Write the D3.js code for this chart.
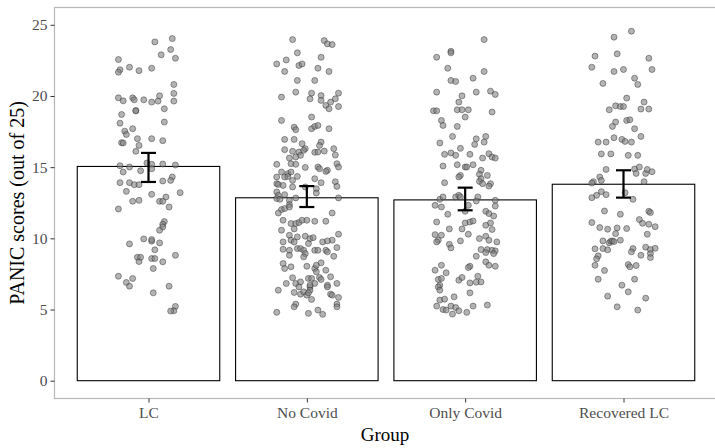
<!DOCTYPE html>
<html>
<head>
<meta charset="utf-8">
<script src="https://cdn.jsdelivr.net/npm/d3@7"></script>
<style>
  body { margin: 0; background: #fff; }
  text { font-family: "Liberation Serif", "Times New Roman", serif; }
</style>
</head>
<body>
<script>
// group names + summary values (mean, error bar low/high)
var groups = ["LC", "No Covid", "Only Covid", "Recovered LC"];
var means = [15.05, 12.85, 12.7, 13.8];
var errLow = [13.96, 12.2, 11.97, 12.86];
var errHigh = [16.0, 13.67, 13.56, 14.78];
var yTicks = [0, 5, 10, 15, 20, 25];

// individual scores, [jitter, score]
var lcPoints = [[0.15,24.03],[0.04,23.80],[0.14,23.26],[0.08,22.89],[0.17,22.65],[-0.19,22.56],[-0.12,22.02],[-0.18,21.84],[-0.19,21.67],[-0.06,21.78],[0.02,21.95],[0.16,20.81],[0.16,20.18],[-0.19,19.87],[-0.16,19.66],[-0.10,19.87],[-0.09,19.73],[-0.03,19.73],[0.02,19.57],[0.06,19.64],[0.07,20.01],[0.16,19.64],[-0.08,18.98],[-0.08,18.95],[0.10,19.10],[-0.17,18.70],[0.10,18.17],[-0.18,18.09],[-0.10,17.70],[-0.15,17.53],[-0.14,17.30],[-0.07,17.00],[0.02,17.00],[0.09,16.86],[-0.17,16.72],[-0.16,16.70],[-0.06,16.53],[-0.08,16.11],[-0.01,15.29],[0.02,15.20],[-0.18,15.10],[-0.12,15.01],[0.09,15.22],[0.17,15.15],[-0.16,14.66],[-0.05,14.75],[0.02,14.89],[0.15,14.31],[0.14,14.07],[-0.18,13.91],[-0.12,13.91],[-0.09,13.77],[-0.06,13.77],[0.09,14.03],[-0.14,13.30],[0.20,13.21],[0.02,13.09],[0.11,12.90],[-0.10,12.60],[-0.06,12.67],[0.07,12.60],[0.09,12.60],[0.13,12.20],[-0.19,12.06],[0.10,11.18],[0.09,10.99],[0.09,10.80],[0.07,10.57],[-0.03,9.96],[0.02,9.80],[0.02,9.91],[0.07,9.68],[-0.12,9.61],[0.04,9.19],[-0.07,8.67],[-0.06,8.37],[-0.05,8.67],[0.02,8.58],[0.04,8.58],[0.09,8.35],[0.17,8.81],[0.03,7.88],[-0.19,7.34],[-0.14,6.90],[-0.12,6.64],[-0.10,7.18],[0.13,6.64],[0.03,6.17],[0.17,5.22],[0.16,4.91],[0.14,4.89]];

var noCovidPoints = [[-0.09,23.96],[0.11,23.89],[0.13,23.66],[0.16,23.61],[-0.06,23.03],[0.09,22.72],[-0.19,22.25],[-0.13,22.53],[-0.05,22.14],[-0.03,22.25],[-0.14,21.72],[0.07,21.95],[0.14,21.72],[-0.06,21.09],[0.05,21.09],[-0.07,20.27],[0.03,20.20],[0.09,20.03],[0.20,20.20],[-0.16,19.92],[0.02,19.80],[0.09,19.69],[0.12,19.34],[0.15,19.57],[0.18,19.80],[0.14,19.10],[0.20,19.26],[-0.16,18.28],[0.03,18.52],[-0.08,17.81],[-0.07,17.63],[0.03,17.70],[0.05,17.86],[0.07,17.93],[0.14,17.70],[-0.14,16.95],[-0.08,16.95],[-0.03,16.65],[0.09,16.76],[-0.01,16.30],[0.08,16.53],[-0.14,16.23],[-0.09,16.11],[-0.05,16.06],[-0.02,16.18],[0.05,16.04],[0.07,16.06],[0.11,16.13],[0.17,16.30],[-0.11,15.64],[-0.07,15.71],[-0.04,15.83],[0.18,15.85],[-0.19,15.20],[-0.10,15.24],[-0.07,15.20],[-0.01,14.98],[0.07,15.01],[0.08,14.89],[0.13,14.78],[0.19,15.24],[0.20,15.01],[-0.16,14.66],[-0.12,14.54],[-0.10,14.66],[0.12,14.70],[-0.19,14.31],[-0.14,14.31],[-0.12,14.35],[-0.09,14.07],[-0.06,14.35],[0.05,14.19],[0.09,13.91],[0.18,13.98],[0.19,13.65],[-0.19,13.84],[-0.18,13.79],[-0.15,13.72],[-0.09,13.61],[-0.01,13.61],[0.06,13.49],[0.06,13.18],[-0.19,13.26],[-0.18,13.02],[-0.14,13.07],[-0.19,12.79],[-0.17,12.74],[-0.11,12.67],[-0.07,12.84],[0.20,12.84],[-0.11,12.37],[-0.16,12.02],[-0.18,11.78],[-0.14,12.09],[-0.11,12.20],[0.16,11.78],[-0.15,11.27],[-0.10,11.04],[-0.07,11.04],[-0.05,11.11],[-0.03,11.27],[0.00,11.27],[0.05,11.20],[0.12,11.20],[-0.08,10.66],[-0.16,10.57],[-0.11,10.22],[-0.06,10.10],[-0.01,10.15],[0.02,9.98],[0.04,10.05],[0.16,9.87],[0.20,10.29],[-0.15,9.75],[-0.10,9.87],[-0.08,9.75],[0.01,9.63],[0.10,9.75],[0.13,9.82],[-0.15,9.23],[-0.11,9.16],[-0.06,9.28],[-0.04,9.28],[-0.02,9.16],[-0.01,8.93],[0.05,9.16],[0.07,9.16],[0.12,9.16],[0.13,9.05],[0.19,9.35],[-0.11,8.81],[-0.02,8.70],[0.17,8.74],[-0.15,8.23],[-0.14,7.88],[-0.10,8.00],[0.00,8.04],[0.05,7.88],[0.06,8.11],[0.09,8.28],[0.12,7.76],[0.06,7.65],[-0.09,7.23],[-0.13,6.83],[-0.07,6.83],[-0.04,6.94],[0.01,7.18],[0.03,7.18],[0.05,6.83],[0.08,7.25],[0.09,7.11],[0.13,6.71],[0.15,7.30],[0.19,6.83],[-0.05,6.59],[0.02,6.59],[0.02,6.71],[0.02,6.36],[0.13,6.59],[-0.18,6.36],[-0.08,6.20],[-0.04,6.08],[-0.02,6.24],[0.00,6.01],[0.01,6.17],[0.03,5.71],[0.15,6.08],[0.16,6.01],[0.20,5.85],[0.19,5.38],[0.19,5.19],[-0.07,5.38],[-0.08,5.19],[-0.19,4.80],[0.01,4.73],[0.07,4.96],[0.10,4.66]];

var onlyCovidPoints = [[0.12,23.96],[-0.18,22.72],[-0.09,23.14],[-0.09,23.03],[-0.11,21.95],[0.12,21.72],[-0.09,21.09],[-0.06,21.02],[0.05,21.25],[-0.18,20.27],[-0.02,20.01],[0.07,20.27],[0.16,20.34],[0.19,20.11],[-0.04,19.57],[-0.20,18.96],[-0.18,18.96],[-0.05,19.03],[-0.02,19.03],[0.02,19.03],[0.17,18.87],[0.00,18.52],[-0.15,18.28],[-0.14,17.93],[-0.05,17.86],[-0.08,17.16],[0.07,16.99],[0.13,17.16],[-0.16,16.70],[0.06,16.60],[0.12,16.76],[-0.03,16.32],[-0.13,15.90],[-0.09,16.00],[-0.06,15.83],[0.03,15.90],[0.11,15.64],[0.15,15.95],[0.17,15.71],[0.19,15.64],[-0.14,15.08],[-0.05,15.17],[0.00,15.01],[0.01,15.01],[0.05,15.17],[0.10,14.78],[-0.03,14.42],[0.09,14.50],[-0.04,14.31],[0.10,14.19],[0.14,14.42],[-0.13,13.91],[0.09,14.00],[0.11,13.84],[0.16,13.84],[0.15,13.67],[-0.16,12.74],[-0.14,12.91],[-0.06,12.91],[-0.04,13.02],[-0.03,12.91],[0.08,12.91],[0.02,12.32],[0.07,12.62],[0.19,12.67],[0.19,12.27],[-0.19,12.32],[-0.15,12.20],[0.00,11.90],[-0.11,11.69],[0.13,11.90],[0.15,11.74],[0.18,11.57],[-0.18,11.15],[0.00,11.08],[0.03,11.15],[0.05,11.22],[0.13,10.92],[0.16,11.08],[-0.10,10.66],[-0.02,10.66],[0.17,10.62],[-0.19,10.26],[-0.15,10.22],[0.02,10.29],[0.09,9.98],[0.13,10.15],[0.15,9.87],[-0.17,9.87],[-0.18,9.75],[-0.03,9.82],[0.20,9.75],[-0.10,9.58],[-0.09,9.33],[0.10,9.21],[0.14,9.21],[0.13,9.00],[0.17,9.16],[0.19,9.12],[0.18,8.93],[0.07,8.74],[0.13,8.35],[0.15,8.11],[0.19,8.04],[-0.15,8.11],[-0.19,7.76],[-0.12,7.58],[0.03,8.04],[0.02,7.95],[-0.17,7.11],[-0.15,7.18],[-0.16,6.71],[-0.17,6.59],[-0.16,6.36],[-0.04,7.06],[-0.02,7.25],[0.03,6.87],[0.07,6.92],[0.08,7.34],[0.10,6.94],[0.03,6.17],[-0.16,5.66],[-0.13,5.73],[-0.07,5.89],[-0.18,5.24],[-0.14,5.00],[-0.12,4.96],[-0.09,5.24],[-0.06,5.14],[-0.04,4.91],[-0.08,4.68],[0.01,4.80],[0.05,5.24],[0.14,5.31]];

var recoveredPoints = [[0.05,24.55],[-0.06,24.13],[-0.18,22.80],[-0.04,22.96],[0.16,22.65],[-0.20,22.02],[-0.06,21.72],[0.00,21.86],[0.18,21.86],[0.07,21.25],[-0.13,20.88],[0.09,20.81],[0.02,19.85],[0.13,19.57],[-0.05,19.31],[-0.02,19.26],[0.00,19.26],[-0.09,19.03],[0.11,19.08],[0.16,19.08],[0.02,18.28],[0.04,18.33],[-0.05,18.17],[-0.07,17.86],[0.07,17.70],[0.11,17.16],[-0.06,17.07],[-0.01,16.95],[0.01,16.81],[0.05,16.76],[-0.16,16.76],[-0.11,16.76],[-0.14,15.93],[-0.08,15.93],[0.03,15.83],[0.09,15.83],[-0.11,14.84],[0.07,14.87],[0.10,15.01],[0.08,14.56],[0.14,14.56],[0.15,14.84],[0.18,14.68],[-0.15,14.31],[-0.19,13.98],[-0.20,13.88],[-0.14,14.07],[0.13,13.98],[-0.14,13.28],[-0.17,13.02],[-0.20,12.86],[-0.11,13.07],[0.01,13.21],[0.06,12.74],[-0.12,11.92],[-0.02,11.69],[0.16,11.90],[0.17,11.81],[-0.20,11.11],[-0.15,10.76],[-0.10,10.64],[-0.04,10.73],[0.02,10.69],[0.10,11.32],[0.12,11.06],[0.16,10.99],[0.20,10.82],[-0.05,10.33],[0.15,10.29],[-0.13,9.82],[-0.09,9.68],[-0.08,9.80],[-0.07,9.82],[-0.06,9.77],[-0.02,9.87],[-0.18,9.26],[-0.13,9.28],[-0.10,9.19],[0.06,9.28],[0.05,9.05],[0.14,9.38],[0.17,9.21],[0.20,9.30],[0.17,8.93],[0.11,8.81],[-0.16,8.77],[-0.17,8.56],[-0.18,8.11],[0.03,8.16],[0.04,8.00],[0.08,8.09],[0.17,8.65],[-0.12,7.74],[-0.16,7.13],[0.07,7.13],[-0.01,6.71],[0.03,6.24],[-0.10,5.94],[0.14,5.80],[-0.04,5.19],[0.09,4.96]];

var pointSets = [lcPoints, noCovidPoints, onlyCovidPoints, recoveredPoints];

var width = 715, height = 448;
var panel = {left: 54.5, top: 7.5, right: 720, bottom: 398.5};

var svg = d3.select("body").append("svg")
    .attr("width", width)
    .attr("height", height);

//x = one slot per group, y = score
var x = d3.scalePoint()
    .domain(groups)
    .range([148.5, 623.5]);
var step = x.step();

var y = d3.scaleLinear()
    .domain([0, 25])
    .range([380.7, 24.8]);

// panel border (light grey, like theme_bw)
svg.append("rect")
    .attr("x", panel.left)
    .attr("y", panel.top)
    .attr("width", panel.right - panel.left)
    .attr("height", panel.bottom - panel.top)
    .attr("fill", "none")
    .attr("stroke", "#b8b8b8")
    .attr("stroke-width", 1.2);

// y axis ticks + labels
var yAxis = svg.append("g")
    .attr("transform", "translate(" + panel.left + ",0)")
    .call(d3.axisLeft(y).tickValues(yTicks).tickSize(4).tickPadding(3));
yAxis.select(".domain").remove();
yAxis.selectAll("line").attr("stroke", "#333");
yAxis.selectAll("text")
    .attr("fill", "#4d4d4d")
    .style("font-size", "15.5px")
    .style("font-family", "Liberation Serif");

// x axis ticks + labels
var xAxis = svg.append("g")
    .attr("transform", "translate(0," + panel.bottom + ")")
    .call(d3.axisBottom(x).tickSize(4).tickPadding(4));
xAxis.select(".domain").remove();
xAxis.selectAll("line").attr("stroke", "#333");
xAxis.selectAll("text")
    .attr("fill", "#4d4d4d")
    .style("font-size", "15.5px")
    .style("font-family", "Liberation Serif");

// bars
svg.selectAll(".bar")
    .data(groups)
    .enter()
    .append("rect")
    .attr("class", "bar")
    .attr("x", function(d){ return x(d) - step * 0.45; })
    .attr("width", step * 0.9)
    .attr("y", function(d, i){ return y(means[i]); })
    .attr("height", function(d, i){ return y(0) - y(means[i]); })
    .attr("fill", "#fff")
    .attr("stroke", "#000")
    .attr("stroke-width", 1.1);

// jittered points
groups.forEach(function(g, i){
    svg.append("g").selectAll("circle")
        .data(pointSets[i])
        .enter()
        .append("circle")
        .attr("cx", function(d){ return x(g) + d[0] * step; })
        .attr("cy", function(d){ return y(d[1]); })
        .attr("r", 3)
        .attr("fill", "#808080")
        .attr("fill-opacity", 0.6)
        .attr("stroke", "#2a2a2a")
        .attr("stroke-opacity", 0.45)
        .attr("stroke-width", 1);
});

// error bars
var eb = svg.selectAll(".err")
    .data(groups)
    .enter()
    .append("g")
    .attr("class", "err")
    .attr("stroke", "#000")
    .attr("stroke-width", 2.2);
eb.append("line")
    .attr("x1", function(d){ return x(d); })
    .attr("x2", function(d){ return x(d); })
    .attr("y1", function(d, i){ return y(errLow[i]); })
    .attr("y2", function(d, i){ return y(errHigh[i]); });
eb.append("line")
    .attr("x1", function(d){ return x(d) - 7.5; })
    .attr("x2", function(d){ return x(d) + 7.5; })
    .attr("y1", function(d, i){ return y(errLow[i]); })
    .attr("y2", function(d, i){ return y(errLow[i]); });
eb.append("line")
    .attr("x1", function(d){ return x(d) - 7.5; })
    .attr("x2", function(d){ return x(d) + 7.5; })
    .attr("y1", function(d, i){ return y(errHigh[i]); })
    .attr("y2", function(d, i){ return y(errHigh[i]); });

// axis titles
svg.append("text")
    .attr("x", 385)
    .attr("y", 441)
    .attr("text-anchor", "middle")
    .style("font-size", "19px")
    .text("Group");

svg.append("text")
    .attr("transform", "translate(24,203) rotate(-90)")
    .attr("text-anchor", "middle")
    .style("font-size", "20px")
    .text("PANIC scores (out of 25)");
</script>
</body>
</html>
